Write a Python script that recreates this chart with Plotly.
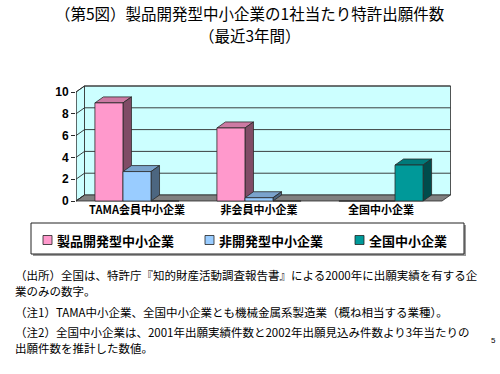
import plotly.graph_objects as go

# ---------------- data ----------------
categories = ["TAMA会員中小企業", "非会員中小企業", "全国中小企業"]
series_names = ["製品開発型中小企業", "非開発型中小企業", "全国中小企業"]
dev_values = [9.0, 6.7, 0.0]       # 製品開発型中小企業
nondev_values = [2.7, 0.3, 0.0]    # 非開発型中小企業
national_values = [0.0, 0.0, 3.3]  # 全国中小企業
y_ticks = [0, 2, 4, 6, 8, 10]

title_lines = ["（第5図）製品開発型中小企業の1社当たり特許出願件数", "（最近3年間）"]
note_lines = [
    "（出所）全国は、特許庁『知的財産活動調査報告書』による2000年に出願実績を有する企",
    "業のみの数字。",
    "（注1）TAMA中小企業、全国中小企業とも機械金属系製造業（概ね相当する業種）。",
    "（注2）全国中小企業は、2001年出願実績件数と2002年出願見込み件数より3年当たりの",
    "出願件数を推計した数値。",
]
page_no = "5"

# ---------------- styles ----------------
front_colors = [(255, 153, 204), (153, 204, 255), (0, 153, 153)]
def rgb(c, f=1.0):
    return "rgb(%d,%d,%d)" % tuple(round(v * f) for v in c)

W, H = 500, 374
CJK = "Noto Sans CJK JP"
X_LEFT_PX, CAT_PX = 76, 122
Y0_PX, PX_UNIT = 201, 10.9
DX = 8.5 / CAT_PX
DY = 6.0 / PX_UNIT
XR = [-0.5, 2.62]
YR = [-0.1, 10.85]
BARGAP = 0.31

x_dom = [X_LEFT_PX / W, (X_LEFT_PX + (XR[1] - XR[0]) * CAT_PX) / W]
y_bot_px = Y0_PX - YR[0] * PX_UNIT
y_top_px = Y0_PX - YR[1] * PX_UNIT
y_dom = [1 - y_bot_px / H, 1 - y_top_px / H]

xs = list(range(len(categories)))
all_series = [dev_values, nondev_values, national_values]

fig = go.Figure()
for name, vals, col in zip(series_names, all_series, front_colors):
    fig.add_trace(go.Bar(
        x=xs, y=vals, name=name, showlegend=False,
        marker=dict(color=rgb(col), line=dict(color="#2a2a2a", width=0.8)),
    ))

def poly(pts, fill, line="#2a2a2a", width=0.8):
    d = "M " + " L ".join("%f,%f" % p for p in pts) + " Z"
    return dict(type="path", path=d, xref="x", yref="y", layer="below",
                fillcolor=fill, line=dict(color=line, width=width))

shapes = []
xl, xr = -0.5, 2.5
ytop = max(y_ticks)
wall = "#CCFFFF"
# side wall
shapes.append(poly([(xl, 0), (xl, ytop), (xl + DX, ytop + DY), (xl + DX, DY)], wall))
# back wall
shapes.append(poly([(xl + DX, DY), (xl + DX, ytop + DY), (xr + DX, ytop + DY), (xr + DX, DY)], wall))
# floor
shapes.append(poly([(xl, 0), (xr, 0), (xr + DX, DY), (xl + DX, DY)], "#808080"))
# gridlines
for v in y_ticks:
    if v > 0:
        shapes.append(dict(type="line", xref="x", yref="y", layer="below",
                           x0=xl + DX, x1=xr + DX, y0=v + DY, y1=v + DY,
                           line=dict(color="#2a2a2a", width=0.9)))
    shapes.append(dict(type="line", xref="x", yref="y", layer="below",
                       x0=xl, x1=xl + DX, y0=v, y1=v + DY,
                       line=dict(color="#2a2a2a", width=0.9)))
# front axis line
shapes.append(dict(type="line", xref="x", yref="y", layer="below",
                   x0=xl, x1=xl, y0=0, y1=ytop, line=dict(color="#2a2a2a", width=1)))

# 3D faces of bars
n = len(all_series)
bw = (1 - BARGAP) / n
for i, (vals, col) in enumerate(zip(all_series, front_colors)):
    for c, v in zip(xs, vals):
        if v <= 0:
            continue
        x0 = c - (1 - BARGAP) / 2 + i * bw
        x1 = x0 + bw
        shapes.append(poly([(x0, v), (x1, v), (x1 + DX, v + DY), (x0 + DX, v + DY)], rgb(col, 0.8)))
        shapes.append(poly([(x1, 0), (x1, v), (x1 + DX, v + DY), (x1 + DX, DY)], rgb(col, 0.5)))

# legend (manual)
def px_x(p): return p / W
def px_y(p): return 1 - p / H
shapes.append(dict(type="rect", xref="paper", yref="paper",
                   x0=px_x(33), x1=px_x(466), y0=px_y(256), y1=px_y(225),
                   fillcolor="#9a9a9a", line=dict(width=0)))
shapes.append(dict(type="rect", xref="paper", yref="paper",
                   x0=px_x(31), x1=px_x(464), y0=px_y(254), y1=px_y(223),
                   fillcolor="white", line=dict(color="#222", width=1)))
annotations = []
leg_sq_x = [43, 205, 355]
for sx, name, col in zip(leg_sq_x, series_names, front_colors):
    shapes.append(dict(type="rect", xref="paper", yref="paper",
                       x0=px_x(sx), x1=px_x(sx + 9), y0=px_y(244.5), y1=px_y(235.5),
                       fillcolor=rgb(col), line=dict(color="#222", width=0.8)))
    annotations.append(dict(xref="paper", yref="paper", x=px_x(sx + 12), y=px_y(240),
                            xanchor="left", yanchor="middle", showarrow=False,
                            text=name, font=dict(family=CJK, size=13, color="black", weight="bold")))

for t, yy in zip(title_lines, [12.5, 35]):
    annotations.append(dict(xref="paper", yref="paper", x=0.5, y=px_y(yy),
                            xanchor="center", yanchor="middle", showarrow=False,
                            text=t, font=dict(family=CJK, size=15.5, color="black")))

note_y = [275, 291, 312, 332, 348]
for t, yy in zip(note_lines, note_y):
    annotations.append(dict(xref="paper", yref="paper", x=px_x(13), y=px_y(yy),
                            xanchor="left", yanchor="middle", showarrow=False,
                            text=t, font=dict(family=CJK, size=11.5, color="black")))
annotations.append(dict(xref="paper", yref="paper", x=px_x(493), y=px_y(340),
                        xanchor="center", yanchor="middle", showarrow=False,
                        text=page_no, font=dict(family="Liberation Sans", size=8, color="black")))

fig.update_layout(
    width=W, height=H,
    margin=dict(l=0, r=0, t=0, b=0),
    paper_bgcolor="white", plot_bgcolor="rgba(0,0,0,0)",
    barmode="group", bargap=BARGAP, bargroupgap=0,
    showlegend=False,
    xaxis=dict(domain=x_dom, range=XR, tickvals=xs, ticktext=categories,
               showgrid=False, zeroline=False, showline=False, ticks="",
               automargin=False,
               tickfont=dict(family=CJK, size=11, color="black", weight="bold")),
    yaxis=dict(domain=y_dom, range=YR, tickvals=y_ticks, showgrid=False,
               zeroline=False, showline=False, ticks="outside", ticklen=4,
               tickcolor="#2a2a2a", automargin=False,
               tickfont=dict(family="Liberation Sans", size=12, color="black", weight="bold")),
    shapes=shapes, annotations=annotations,
)

fig.write_html("out.html")
